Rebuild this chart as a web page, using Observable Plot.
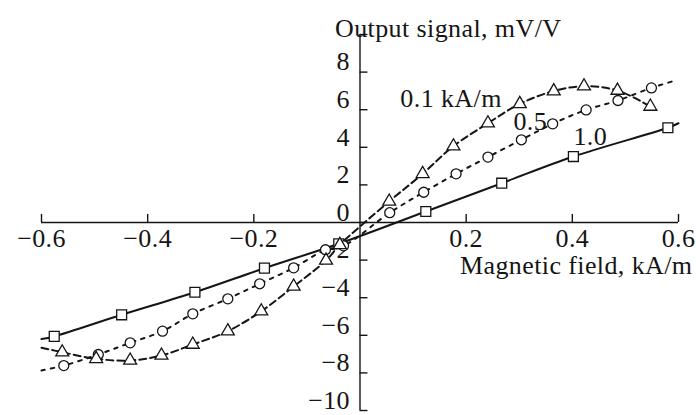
<!DOCTYPE html>
<html>
<head>
<meta charset="utf-8">
<script src="https://cdn.jsdelivr.net/npm/d3@7"></script>
<script src="https://cdn.jsdelivr.net/npm/@observablehq/plot@0.6"></script>
<style>
  html, body { margin: 0; padding: 0; background: #fff; }
  #chart svg { display: block; }
</style>
</head>
<body>
<div id="chart"></div>
<script>
// ---- data ----
// 1.0 kA/m (squares, solid)
const sqX = [-0.576, -0.449, -0.311, -0.180, -0.040, 0.124, 0.267, 0.402, 0.580];
const sqY = [-6.06, -4.91, -3.71, -2.43, -1.13, 0.585, 2.09, 3.51, 5.04];
const sqStart = [-0.6, -6.2];
const sqEnd = [0.6, 5.28];
// 0.1 kA/m (triangles, dashed)
const triX = [-0.561, -0.497, -0.433, -0.374, -0.315, -0.249, -0.186, -0.125, -0.064, -0.038, 0.055, 0.118, 0.176, 0.241, 0.301, 0.365, 0.422, 0.485, 0.547];
const triY = [-6.90, -7.25, -7.34, -7.07, -6.49, -5.78, -4.72, -3.40, -2.02, -1.19, 1.12, 2.59, 4.06, 5.28, 6.31, 6.99, 7.25, 7.02, 6.17];
const triStart = [-0.6, -6.66];
// 0.5 kA/m (circles, dotted)
const cirX = [-0.558, -0.493, -0.433, -0.372, -0.315, -0.249, -0.189, -0.125, -0.065, -0.031, 0.056, 0.120, 0.181, 0.241, 0.304, 0.363, 0.426, 0.486, 0.549];
const cirY = [-7.61, -7.02, -6.40, -5.78, -4.86, -4.06, -3.26, -2.41, -1.45, -1.24, 0.52, 1.61, 2.59, 3.48, 4.40, 5.25, 5.99, 6.49, 7.16];
const cirStart = [-0.6, -7.87];
const cirEnd = [0.594, 7.55];

// axes
const xTicks = [-0.6, -0.4, -0.2, 0.2, 0.4, 0.6];
const xTickLabels = ["\u22120.6", "\u22120.4", "\u22120.2", "0.2", "0.4", "0.6"];
const yTicks = [-10, -8, -6, -4, -2, 0, 2, 4, 6, 8, 10];
const yLabelValues = [-10, -8, -6, -4, -2, 0, 2, 4, 6, 8];
const yTickLabels = ["\u221210", "\u22128", "\u22126", "\u22124", "\u22122", "0", "2", "4", "6", "8"];
const xTitle = "Magnetic field, kA/m";
const yTitle = "Output signal, mV/V";

// series labels
const seriesLabels = ["0.1 kA/m", "0.5", "1.0"];
const seriesLabelX = [0.076, 0.289, 0.402];
const seriesLabelY = [6.6, 5.37, 4.57];

// ---- build tables ----
const pts = (xs, ys) => xs.map((x, i) => ({x, y: ys[i]}));
const sq = pts(sqX, sqY);
const tri = pts(triX, triY);
const cir = pts(cirX, cirY);
const sqLine = [{x: sqStart[0], y: sqStart[1]}, ...sq, {x: sqEnd[0], y: sqEnd[1]}];
const triLine = [{x: triStart[0], y: triStart[1]}, ...tri];
const cirLine = [{x: cirStart[0], y: cirStart[1]}, ...cir, {x: cirEnd[0], y: cirEnd[1]}];
const xLab = xTicks.map((v, i) => ({v, t: xTickLabels[i]}));
const yLab = yLabelValues.map((v, i) => ({v, t: yTickLabels[i]}));
const sLab = seriesLabels.map((t, i) => ({t, x: seriesLabelX[i], y: seriesLabelY[i]}));

const font = "'Liberation Serif', 'Times New Roman', serif";
const ink = "#151515";
const fs = 26;

const chart = Plot.plot({
  width: 696,
  height: 415,
  marginLeft: 41,
  marginRight: 18,
  marginTop: 34,
  marginBottom: 5,
  x: {domain: [-0.6, 0.6], axis: null},
  y: {domain: [-10, 10], axis: null},
  style: {fontFamily: font, background: "#fff", color: ink, letterSpacing: "0.4px"},
  marks: [
    // axes lines
    Plot.ruleY([0], {x1: -0.6, x2: 0.6, stroke: ink, strokeWidth: 1.4}),
    Plot.ruleX([0], {y1: -10, y2: 10, stroke: ink, strokeWidth: 1.4}),
    // ticks (inward)
    Plot.ruleX(xTicks, {x: d => d, y1: 0, y2: 0.43, stroke: ink, strokeWidth: 1.4}),
    Plot.ruleY(yTicks, {y: d => d, x1: 0, x2: 0.015, stroke: ink, strokeWidth: 1.4}),
    // tick labels
    Plot.text(xLab, {x: "v", y: 0, text: "t", dy: 16, fontSize: fs, fill: ink}),
    Plot.text(yLab, {x: 0, y: "v", text: "t", dx: -10, dy: -10, textAnchor: "end", fontSize: fs, fill: ink}),
    // axis titles
    Plot.text([yTitle], {frameAnchor: "top", text: d => d, dx: -25, dy: -16, textAnchor: "start", fontSize: fs, fill: ink}),
    Plot.text([xTitle], {x: 0.6, y: 0, text: d => d, dx: 14, dy: 43, textAnchor: "end", fontSize: fs, fill: ink}),
    // curves
    Plot.line(sqLine, {x: "x", y: "y", curve: "catmull-rom", stroke: ink, strokeWidth: 2}),
    Plot.line(triLine, {x: "x", y: "y", curve: "catmull-rom", stroke: ink, strokeWidth: 2, strokeDasharray: "7,4"}),
    Plot.line(cirLine, {x: "x", y: "y", curve: "catmull-rom", stroke: ink, strokeWidth: 2, strokeDasharray: "3.5,6"}),
    // markers
    Plot.dot(sq, {x: "x", y: "y", symbol: "square", r: 5.6, fill: "white", stroke: ink, strokeWidth: 1.3}),
    Plot.dot(cir, {x: "x", y: "y", symbol: "circle", r: 5, fill: "white", stroke: ink, strokeWidth: 1.3}),
    Plot.dot(tri, {x: "x", y: "y", symbol: "triangle", r: 4.8, fill: "white", stroke: ink, strokeWidth: 1.3}),
    // series labels
    Plot.text(sLab, {x: "x", y: "y", text: "t", textAnchor: "start", fontSize: fs, fill: ink})
  ]
});
document.getElementById("chart").appendChild(chart);
</script>
</body>
</html>
